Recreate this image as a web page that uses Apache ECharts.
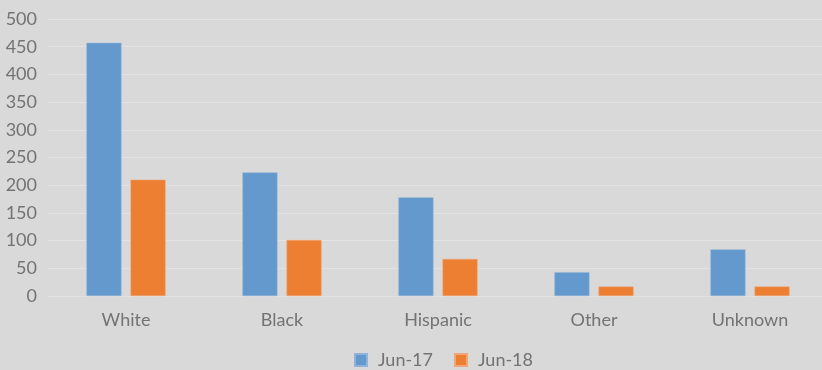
<!DOCTYPE html>
<html><head><meta charset="utf-8">
<script src="https://cdn.jsdelivr.net/npm/echarts@6/dist/echarts.min.js"></script>
<style>html,body{margin:0;padding:0;background:#d9d9d9;overflow:hidden;width:822px;height:370px}#c{width:840px;height:370px}</style>
</head><body><div id="c"></div>
<script>
const categories = ["White", "Black", "Hispanic", "Other", "Unknown"];
const jun17 = [457, 223, 178, 43, 84];
const jun18 = [210, 101, 67, 17, 17];
const seriesNames = ["Jun-17", "Jun-18"];

const chart = echarts.init(document.getElementById('c'));
const font = 'Lato, "Open Sans", sans-serif';
const txt = '#737373';
chart.setOption({
  backgroundColor: '#d9d9d9',
  animation: false,
  textStyle: {fontFamily: font},
  grid: {left: 48, top: 19, width: 780, height: 277, containLabel: false},
  legend: {
    data: seriesNames, top: 346, left: 349, itemWidth: 12, itemHeight: 12, itemGap: 21,
    icon: 'rect',
    textStyle: {color: txt, fontSize: 18, fontFamily: font, padding: [0, 0, 0, 6]}
  },
  xAxis: {
    type: 'category', data: categories,
    axisLine: {show: true, lineStyle: {color: '#e3e3e3', width: 1}},
    axisTick: {show: false},
    axisLabel: {color: txt, fontSize: 18, margin: 15, fontFamily: font}
  },
  yAxis: {
    type: 'value', min: 0, max: 500, interval: 50,
    axisLine: {show: false}, axisTick: {show: false},
    splitLine: {lineStyle: {color: '#e3e3e3', width: 1}},
    axisLabel: {color: txt, fontSize: 18, margin: 11, fontFamily: font}
  },
  series: [
    {name: seriesNames[0], type: 'bar', data: jun17, barWidth: 35, barGap: '26%',
     itemStyle: {color: '#6399cc', borderColor: '#8fb4d9', borderWidth: 0.5}},
    {name: seriesNames[1], type: 'bar', data: jun18, barWidth: 35,
     itemStyle: {color: '#ec7f32', borderColor: '#f0a678', borderWidth: 0.5}}
  ]
});
</script></body></html>
